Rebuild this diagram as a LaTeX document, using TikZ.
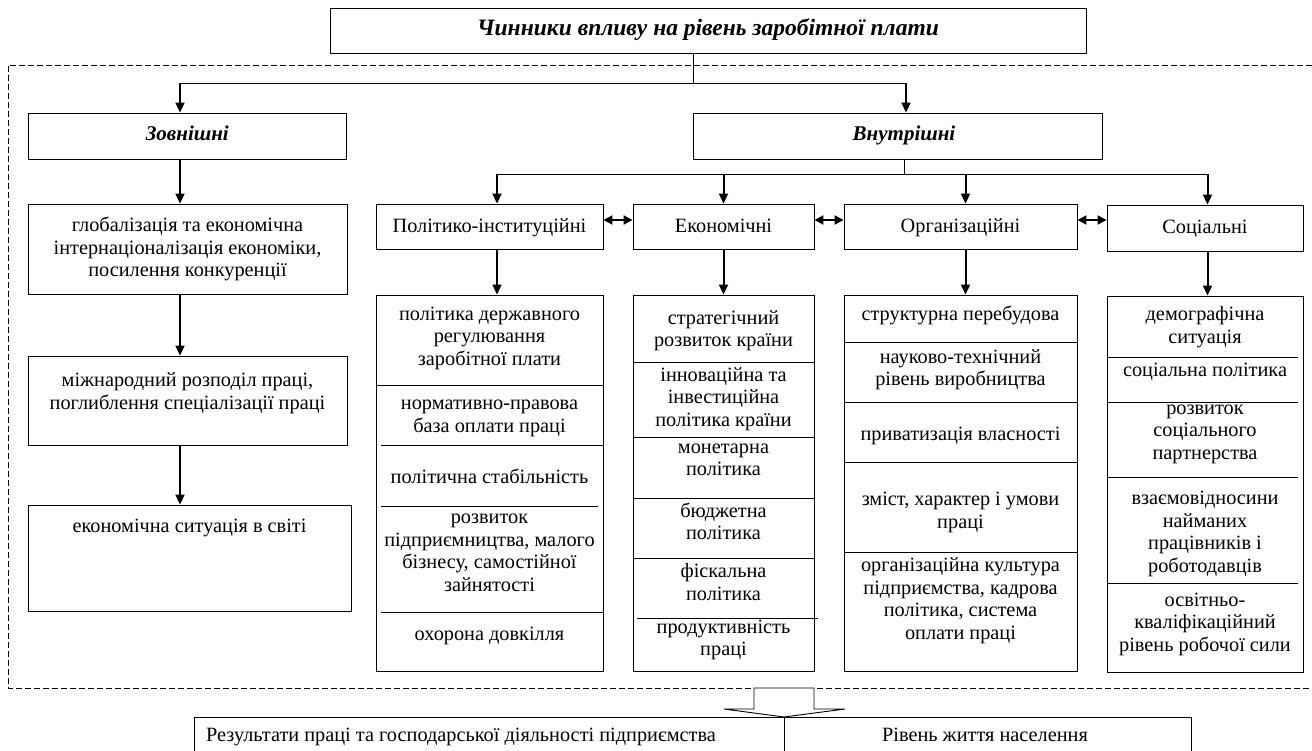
\documentclass[tikz,border=0pt]{standalone}
\usepackage{fontspec}
\setmainfont{Liberation Serif}
\usetikzlibrary{arrows.meta}
\newcommand\myfs{\fontsize{20.3}{22.5}\selectfont}
\newcommand\mybfs{\fontsize{21}{23}\selectfont\bfseries\itshape}
\newcommand\mytfs{\fontsize{23.5}{25}\selectfont\bfseries\itshape}
\begin{document}
\begin{tikzpicture}[x=1pt,y=-1pt,
  box/.style={draw, line width=0.9pt, inner sep=0pt},
  txt/.style={inner sep=0pt, align=center, font=\myfs, yshift=-1.5pt, execute at begin node=\strut, execute at end node=\strut},
  btxt/.style={inner sep=0pt, align=center, font=\mybfs, execute at begin node=\strut},
  ttxt/.style={inner sep=0pt, align=center, font=\mytfs, execute at begin node=\strut},
  arr/.style={line width=2pt, -{Triangle[length=10pt,width=9pt]}},
  dbl/.style={line width=2pt, {Triangle[length=9pt,width=9pt]}-{Triangle[length=9pt,width=9pt]}},
  thin/.style={line width=0.8pt},
  sep/.style={line width=0.9pt}]
\useasboundingbox (0,0) rectangle (1312,751);
% dashed frame
\draw[line width=0.9pt, dash pattern=on 6pt off 3pt] (1312,65) -- (8,65) -- (8,688) -- (1312,688);
% title
\node[box, minimum width=756pt, minimum height=45pt] (title) at (708,30.5) {};
\node[ttxt] (titlet) at (708,31) {Чинники впливу на рівень заробітної плати};
% level 1
\node[box, minimum width=317.4pt, minimum height=46pt] (zovn) at (187.3,136) {};
\node[btxt] at (187.3,136) {Зовнішні};
\node[box, minimum width=408.5pt, minimum height=46pt] (vnut) at (897.75,136) {};
\node[btxt] at (904,136) {Внутрішні};
% external column
\node[box, minimum width=319pt, minimum height=90pt] (glob) at (187.5,249) {};
\node[txt] at (187.5,249) {глобалізація та економічна\\інтернаціоналізація економіки,\\посилення конкуренції};
\node[box, minimum width=319pt, minimum height=89pt] (mizh) at (187.5,400.5) {};
\node[txt] at (187.5,393) {міжнародний розподіл праці,\\поглиблення спеціалізації праці};
\node[box, minimum width=323pt, minimum height=106pt] (sit) at (189.5,558) {};
\node[txt] at (189.5,526) {економічна ситуація в світі};
% internal row
\node[box, minimum width=227pt, minimum height=45pt] (pol) at (489.5,226.5) {};
\node[txt] at (489.5,227) {Політико-інституційні};
\node[box, minimum width=181pt, minimum height=45pt] (eco) at (723.5,226.5) {};
\node[txt] at (723.5,227) {Економічні};
\node[box, minimum width=233pt, minimum height=45pt] (org) at (960.5,226.5) {};
\node[txt] at (960.5,227) {Організаційні};
\node[box, minimum width=196pt, minimum height=46pt] (soc) at (1205,228) {};
\node[txt] at (1205,228) {Соціальні};
% lists
\node[box, minimum width=227pt, minimum height=376pt] (polL) at (489.5,483) {};
\node[box, minimum width=181pt, minimum height=376pt] (ecoL) at (723.5,483) {};
\node[box, minimum width=233pt, minimum height=376pt] (orgL) at (960.5,483) {};
\node[box, minimum width=196pt, minimum height=376pt] (socL) at (1205,484) {};
% dividers
\draw[sep] (376,385) -- (603,385);
\draw[sep] (381,445) -- (603,445);
\draw[sep] (381,506) -- (598,506);
\draw[sep] (381,612) -- (603,612);
\draw[sep] (633,362) -- (814,362);
\draw[sep] (633,437) -- (814,437);
\draw[sep] (633,498) -- (814,498);
\draw[sep] (633,558) -- (814,558);
\draw[sep] (637,618) -- (818,618);
\draw[sep] (844,342) -- (1077,342);
\draw[sep] (844,402) -- (1077,402);
\draw[sep] (844,462) -- (1077,462);
\draw[sep] (844,552) -- (1077,552);
\draw[sep] (1107,357) -- (1298,357);
\draw[sep] (1107,402) -- (1298,402);
\draw[sep] (1107,477) -- (1298,477);
\draw[sep] (1107,583) -- (1298,583);
% list texts
\node[txt] at (489.5,338) {політика державного\\регулювання\\заробітної плати};
\node[txt] at (489.5,418) {нормативно-правова\\база оплати праці};
\node[txt] at (489.5,477) {політична стабільність};
\node[txt] at (489.5,554.5) {розвиток\\підприємництва, малого\\бізнесу, самостійної\\зайнятості};
\node[txt] at (489.5,634) {охорона довкілля};
\node[txt] at (723.5,330.5) {стратегічний\\розвиток країни};
\node[txt] at (723.5,398.5) {інноваційна та\\інвестиційна\\політика країни};
\node[txt] at (723.5,461.5) {монетарна\\політика};
\node[txt] at (723.5,523) {бюджетна\\політика};
\node[txt] at (723.5,584) {фіскальна\\політика};
\node[txt] at (723.5,639.5) {продуктивність\\праці};
\node[txt] at (960.5,314) {структурна перебудова};
\node[txt] at (960.5,369.5) {науково-технічний\\рівень виробництва};
\node[txt] at (960.5,434) {приватизація власності};
\node[txt] at (960.5,512) {зміст, характер і умови\\праці};
\node[txt] at (960.5,600.5) {організаційна культура\\підприємства, кадрова\\політика, система\\оплати праці};
\node[txt] at (1205,327) {демографічна\\ситуація};
\node[txt] at (1205,370) {соціальна політика};
\node[txt] at (1205,434) {розвиток\\соціального\\партнерства};
\node[txt] at (1205,533.5) {взаємовідносини\\найманих\\працівників і\\роботодавців};
\node[txt] at (1205,624) {освітньо-\\кваліфікаційний\\рівень робочої сили};
% bottom boxes
\node[box, minimum width=589.5pt, minimum height=43pt] (res) at (489.25,738.5) {};
\node[txt, anchor=west] at (206,735) {Результати праці та господарської діяльності підприємства};
\node[box, minimum width=407.5pt, minimum height=43pt] (liv) at (987.75,738.5) {};
\node[txt] at (985,735) {Рівень життя населення};
% block arrow
\draw[line width=0.9pt, fill=white] (754,688) -- (754,709) -- (724,709) -- (784,717) -- (845,709) -- (814,709) -- (814,688) -- cycle;
% connectors
\coordinate (t1) at (693.5,83);
\coordinate (a1) at (180,83);
\coordinate (a2) at (906,83);
\draw[thin] (title.south -| t1) -- (t1);
\draw[thin] (a1) -- (a2);
\draw[arr] (a1) -- (zovn.north -| a1);
\draw[arr] (a2) -- (vnut.north -| a2);
\draw[arr] (zovn.south -| a1) -- (glob.north -| a1);
\draw[arr] (glob.south -| a1) -- (mizh.north -| a1);
\draw[arr] (mizh.south -| a1) -- (sit.north -| a1);
\coordinate (v0) at (904.5,174);
\coordinate (b1) at (497,174);
\coordinate (b2) at (723.5,174);
\coordinate (b3) at (965.5,174);
\coordinate (b4) at (1207.5,174);
\draw[thin] (vnut.south -| v0) -- (v0);
\draw[thin] (b1) -- (b4);
\draw[arr] (b1) -- (pol.north -| b1);
\draw[arr] (b2) -- (eco.north -| b2);
\draw[arr] (b3) -- (org.north -| b3);
\draw[arr] (b4) -- (soc.north -| b4);
\draw[arr] (pol.south -| b1) -- (polL.north -| b1);
\draw[arr] (eco.south -| b2) -- (ecoL.north -| b2);
\draw[arr] (org.south -| b3) -- (orgL.north -| b3);
\draw[arr] (soc.south -| b4) -- (socL.north -| b4);
\coordinate (h) at (0,220);
\draw[dbl] (pol.east |- h) -- (eco.west |- h);
\draw[dbl] (eco.east |- h) -- (org.west |- h);
\draw[dbl] (org.east |- h) -- (soc.west |- h);
\end{tikzpicture}
\end{document}
